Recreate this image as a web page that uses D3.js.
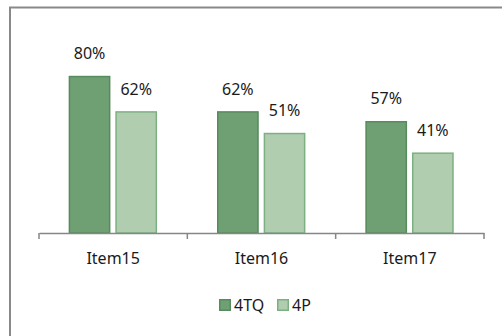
<!DOCTYPE html>
<html>
<head>
<meta charset="utf-8">
<script src="https://cdn.jsdelivr.net/npm/d3@7/dist/d3.min.js"></script>
<style>
  html, body { margin: 0; padding: 0; background: #fff; }
  svg { display: block; font-family: "Noto Sans", "Open Sans", sans-serif; }
</style>
</head>
<body>
<svg id="chart" width="502" height="336"></svg>
<script>
// Categories and series values (fractions)
const categories = ["Item15", "Item16", "Item17"];
const seriesNames = ["4TQ", "4P"];
const values4TQ = [0.80, 0.62, 0.57];
const values4P = [0.62, 0.51, 0.41];

const fills = { "4TQ": "#6fa074", "4P": "#b0cdb0" };
const strokes = { "4TQ": "#578a5c", "4P": "#7db080" };

const rows = categories.map((c, i) => ({ cat: c, "4TQ": values4TQ[i], "4P": values4P[i] }));

const svg = d3.select("#chart");

// Outer chart border
svg.append("rect")
  .attr("x", 10).attr("y", 7.5)
  .attr("width", 520).attr("height", 360)
  .attr("fill", "#fff")
  .attr("stroke", "#898989").attr("stroke-width", 2);

const x = d3.scaleBand().domain(categories).range([39, 484]).padding(0);
const xInner = d3.scaleBand().domain(seriesNames)
  .range([x.bandwidth() * 0.2, x.bandwidth() * 0.796]).paddingInner(0.105);
const y = d3.scaleLinear().domain([0, 1]).range([233, 36.5]);

const fmt = d3.format(".0%");
const sw = 1.5;

const groups = svg.append("g").selectAll("g")
  .data(rows).join("g")
  .attr("transform", d => `translate(${x(d.cat)},0)`);

groups.selectAll("rect")
  .data(d => seriesNames.map(s => ({ s, v: d[s] })))
  .join("rect")
  .attr("x", d => xInner(d.s) + sw / 2)
  .attr("y", d => y(d.v) + sw / 2)
  .attr("width", xInner.bandwidth() - sw)
  .attr("height", d => y(0) - y(d.v) - sw / 2)
  .attr("fill", d => fills[d.s])
  .attr("stroke", d => strokes[d.s])
  .attr("stroke-width", sw);

groups.selectAll("text")
  .data(d => seriesNames.map(s => ({ s, v: d[s] })))
  .join("text")
  .attr("x", d => xInner(d.s) + xInner.bandwidth() / 2)
  .attr("y", d => y(d.v) - 16.5)
  .attr("text-anchor", "middle")
  .attr("font-size", 16)
  .attr("fill", "#1a1a1a")
  .text(d => fmt(d.v));

// Category axis: labels from the band scale, ticks on band edges
const axis = svg.append("g")
  .attr("transform", `translate(0,${y(0)})`)
  .call(d3.axisBottom(x).tickSize(0).tickPadding(19.5));
axis.select(".domain").attr("stroke", "#868686").attr("stroke-width", 1.5);
axis.selectAll("text")
  .attr("font-size", 16)
  .attr("font-family", "Noto Sans, Open Sans, sans-serif")
  .attr("fill", "#1a1a1a");

const edges = categories.map(c => x(c)).concat([x.range()[1]]);
axis.selectAll(".edge").data(edges).join("line")
  .attr("class", "edge")
  .attr("x1", d => d).attr("x2", d => d)
  .attr("y1", 0).attr("y2", 6)
  .attr("stroke", "#868686").attr("stroke-width", 1.5);

// Legend
const legendItems = [
  { name: "4TQ", x: 219 },
  { name: "4P", x: 277 }
];
const legend = svg.append("g").attr("transform", "translate(0,299)");
const li = legend.selectAll("g").data(legendItems).join("g")
  .attr("transform", d => `translate(${d.x},0)`);
li.append("rect")
  .attr("x", 0.75).attr("y", 0.75)
  .attr("width", 10.5).attr("height", 10.5)
  .attr("fill", d => fills[d.name])
  .attr("stroke", d => strokes[d.name])
  .attr("stroke-width", 1.5);
li.append("text")
  .attr("x", 15).attr("y", 12)
  .attr("font-size", 16)
  .attr("fill", "#1a1a1a")
  .text(d => d.name);
</script>
</body>
</html>
